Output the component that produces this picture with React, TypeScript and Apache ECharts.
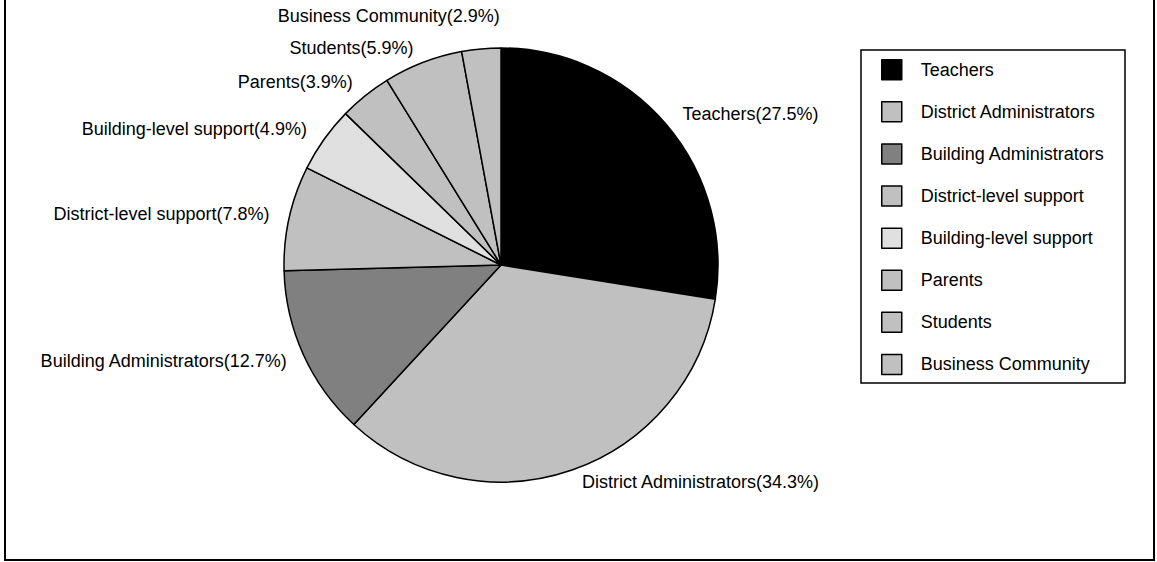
import React, { useEffect, useRef } from "react";
import * as echarts from "echarts";

const categories = [
  "Teachers",
  "District Administrators",
  "Building Administrators",
  "District-level support",
  "Building-level support",
  "Parents",
  "Students",
  "Business Community",
];
const percents = [27.5, 34.3, 12.7, 7.8, 4.9, 3.9, 5.9, 2.9];
const colors = ["#000000", "#c0c0c0", "#808080", "#c0c0c0", "#e0e0e0", "#c0c0c0", "#c0c0c0", "#c0c0c0"];
// small label nudges [dx, dy] (styling only)
const labelNudge = [
  [0, 0],
  [0, -2],
  [2, 0],
  [0, -1],
  [0, -2],
  [2, -2],
  [1, -1],
  [25, -18],
];

const FONT = "'Liberation Sans', Arial, sans-serif";

export default function App() {
  const ref = useRef<HTMLDivElement>(null);
  useEffect(() => {
    if (!ref.current) return;
    const chart = echarts.init(ref.current, undefined, { renderer: "svg" });
    chart.setOption({
      animation: false,
      backgroundColor: "#ffffff",
      textStyle: { fontFamily: FONT },
      graphic: [
        {
          type: "rect",
          shape: { x: 5, y: -5, width: 1149, height: 565 },
          style: { fill: "none", stroke: "#000", lineWidth: 2 },
          z: 0,
        },
        {
          type: "rect",
          shape: { x: 861, y: 50, width: 264, height: 333 },
          style: { fill: "none", stroke: "#000", lineWidth: 1.5 },
          z: 0,
        },
      ],
      legend: {
        orient: "vertical",
        left: 881,
        top: 59,
        padding: 0,
        itemGap: 20.6,
        itemWidth: 48,
        itemHeight: 20,
        icon: "path://M0,0H10V10H0Z",
        itemStyle: { borderColor: "#000", borderWidth: 1.5 },
        textStyle: { fontSize: 18, color: "#000", fontFamily: FONT },
        selectedMode: false,
        data: categories,
      },
      series: [
        {
          type: "pie",
          center: [501, 265],
          radius: 217,
          startAngle: 90,
          clockwise: true,
          avoidLabelOverlap: false,
          data: categories.map((name, i) => ({
            name,
            value: percents[i],
            itemStyle: { color: colors[i] },
          })),
          itemStyle: { borderColor: "#000", borderWidth: 1.5 },
          label: {
            show: true,
            position: "outside",
            formatter: "{b}({c}%)",
            fontSize: 18,
            color: "#000",
            fontFamily: FONT,
          },
          labelLine: { show: false, length: 15, length2: 0 },
          labelLayout: (p: any) => ({
            dx: labelNudge[p.dataIndex][0],
            dy: labelNudge[p.dataIndex][1],
          }),
          emphasis: { disabled: true },
        },
      ],
    });
    return () => chart.dispose();
  }, []);
  return (
    <div
      ref={ref}
      style={{ position: "fixed", left: 0, top: 0, width: 1157, height: 562, background: "#fff" }}
    />
  );
}
